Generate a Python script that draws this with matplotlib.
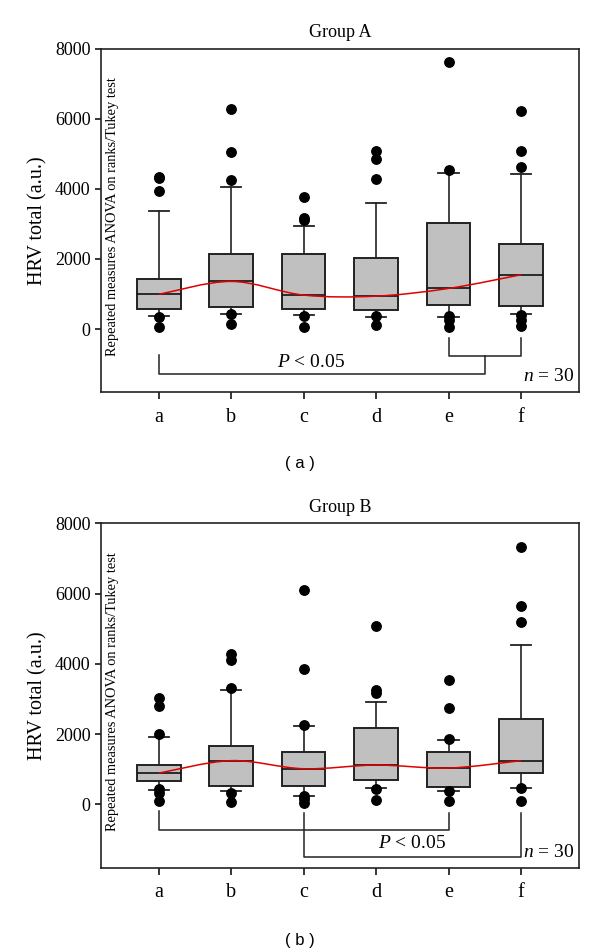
import numpy as np
import matplotlib
matplotlib.use('Agg')
import matplotlib.pyplot as plt
from matplotlib.path import Path
from matplotlib.patches import PathPatch

plt.rcParams['font.family'] = ['Liberation Serif', 'DejaVu Serif']
plt.rcParams['mathtext.fontset'] = 'custom'
plt.rcParams['mathtext.rm'] = 'Liberation Serif'
plt.rcParams['mathtext.it'] = 'Liberation Serif:italic'

labels = ['a', 'b', 'c', 'd', 'e', 'f']

# Group A
a_med = [990, 1360, 970, 940, 1160, 1550]
a_q1 = [560, 630, 560, 540, 680, 670]
a_q3 = [1430, 2150, 2130, 2040, 3030, 2430]
a_lo = [370, 440, 400, 350, 350, 420]
a_hi = [3380, 4050, 2930, 3590, 4440, 4420]
a_out = [[4350, 4300, 3950, 350, 60],
         [6270, 5060, 4250, 420, 150],
         [3770, 3170, 3100, 380, 50],
         [5070, 4860, 4270, 380, 110],
         [7610, 4530, 380, 250, 60],
         [6220, 5090, 4630, 400, 260, 90]]

# Group B
b_med = [890, 1245, 1015, 1120, 1035, 1245]
b_q1 = [655, 530, 530, 685, 485, 885]
b_q3 = [1130, 1660, 1500, 2185, 1500, 2430]
b_lo = [410, 370, 230, 455, 390, 475]
b_hi = [1930, 3250, 2240, 2925, 1830, 4540]
b_out = [[3040, 2800, 2000, 430, 330, 100],
         [4270, 4110, 3300, 330, 80],
         [6110, 3860, 2250, 230, 150, 40],
         [5070, 3260, 3180, 450, 120],
         [3530, 2740, 1870, 390, 90],
         [7330, 5650, 5190, 470, 90]]

# significance brackets: x1, x2, top1, top2, bar
a_brackets = [(5, 6, -260, -260, -770), (1, 5.5, -740, -770, -1280)]
b_brackets = [(1, 5, -190, -240, -740), (3, 6, -250, -250, -1510)]
a_ptext = (3.1, -940)
b_ptext = (4.5, -1100)
a_ntext = (6.74, -1340)
b_ntext = (6.74, -1380)


def smooth_path(xs, ys):
    # Catmull-Rom through the medians, drawn as cubic Bezier segments
    pts = np.column_stack((xs, ys)).astype(float)
    ext = np.vstack((pts[0], pts, pts[-1]))
    verts = [pts[0]]
    codes = [Path.MOVETO]
    for i in range(1, len(ext) - 2):
        p0, p1, p2, p3 = ext[i - 1], ext[i], ext[i + 1], ext[i + 2]
        verts += [p1 + (p2 - p0) / 6, p2 - (p3 - p1) / 6, p2]
        codes += [Path.CURVE4] * 3
    return Path(verts, codes)


def panel(ax, title, med, q1, q3, lo, hi, out, brackets, ptext, ntext):
    pos = np.arange(1, len(labels) + 1)
    stats = []
    for i in range(len(labels)):
        stats.append(dict(med=med[i], q1=q1[i], q3=q3[i], whislo=lo[i],
                          whishi=hi[i], fliers=out[i]))
    ax.bxp(stats, positions=pos, widths=0.6, capwidths=0.28, patch_artist=True,
           boxprops=dict(facecolor='#c0c0c0', edgecolor='#222222', linewidth=1.4),
           medianprops=dict(color='#111111', linewidth=1.2),
           whiskerprops=dict(color='#222222', linewidth=1.2),
           capprops=dict(color='#222222', linewidth=1.3),
           flierprops=dict(marker='o', markerfacecolor='black', markeredgecolor='black',
                           markersize=6.8))
    ax.add_patch(PathPatch(smooth_path(pos, med), facecolor='none',
                           edgecolor='#e00000', linewidth=1.1, zorder=5))

    for x1, x2, t1, t2, bar in brackets:
        ax.plot([x1, x1, x2, x2], [t1, bar, bar, t2], color='#222222', linewidth=1.1)
    ax.text(ptext[0], ptext[1], r'$P$ < 0.05', fontsize=14, ha='center', va='center')
    ax.text(ntext[0], ntext[1], r'$n$ = 30', fontsize=14, ha='right', va='center')

    ax.text(0.025, 0.51, 'Repeated measures ANOVA on ranks/Tukey test', transform=ax.transAxes,
            rotation=90, fontsize=10.4, ha='center', va='center')

    ax.set_xlim(0.2, 6.8)
    ax.set_ylim(-1800, 8000)
    ax.set_yticks([0, 2000, 4000, 6000, 8000])
    ax.set_xticks(pos)
    ax.set_xticklabels(labels)
    ax.tick_params(axis='y', labelsize=13, direction='out', length=4, width=1.1)
    ax.tick_params(axis='x', labelsize=14.5, direction='out', length=5, width=1.1, pad=6)
    ax.set_ylabel('HRV total (a.u.)', fontsize=14.5, labelpad=5)
    ax.set_title(title, fontsize=13, pad=8)
    for sp in ax.spines.values():
        sp.set_linewidth(1.2)
        sp.set_color('#222222')


fig = plt.figure(figsize=(6, 9.52), dpi=100)
ax1 = fig.add_axes([0.168, 0.588, 0.797, 0.361])
ax2 = fig.add_axes([0.168, 0.0886, 0.797, 0.3617])

panel(ax1, 'Group A', a_med, a_q1, a_q3, a_lo, a_hi, a_out, a_brackets, a_ptext, a_ntext)
panel(ax2, 'Group B', b_med, b_q1, b_q3, b_lo, b_hi, b_out, b_brackets, b_ptext, b_ntext)

fig.text(0.5, 1 - 463 / 952, '( a )', fontsize=12, ha='center', va='center', family='Liberation Sans')
fig.text(0.5, 1 - 940 / 952, '( b )', fontsize=12, ha='center', va='center', family='Liberation Sans')

fig.savefig('out.png', dpi=100)
